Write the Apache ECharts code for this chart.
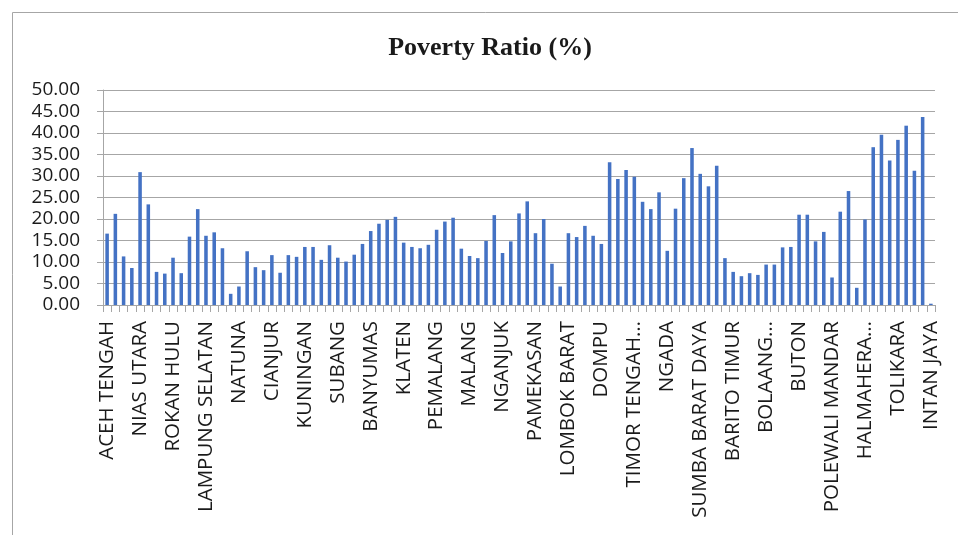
<!DOCTYPE html>
<html>
<head>
<meta charset="utf-8">
<title>Poverty Ratio (%)</title>
<script src="https://cdn.jsdelivr.net/npm/echarts@6/dist/echarts.min.js"></script>
<style>
  html, body { margin: 0; padding: 0; background: #ffffff; }
  #chart { width: 958px; height: 535px; }
</style>
</head>
<body>
<div id="chart"></div>
<script>
// Districts whose names appear on the axis (every fourth district).
const labeledDistricts = [
  'ACEH TENGAH', 'NIAS UTARA', 'ROKAN HULU', 'LAMPUNG SELATAN', 'NATUNA',
  'CIANJUR', 'KUNINGAN', 'SUBANG', 'BANYUMAS', 'KLATEN', 'PEMALANG',
  'MALANG', 'NGANJUK', 'PAMEKASAN', 'LOMBOK BARAT', 'DOMPU',
  'TIMOR TENGAH\u2026', 'NGADA', 'SUMBA BARAT DAYA', 'BARITO TIMUR',
  'BOLAANG\u2026', 'BUTON', 'POLEWALI MANDAR', 'HALMAHERA\u2026',
  'TOLIKARA', 'INTAN JAYA'
];
const labelStep = 4;

// Poverty ratio (%) per district, in axis order.
const povertyRatio = [
  16.6, 21.2, 11.3, 8.6, 30.9, 23.4, 7.7, 7.3, 11.0, 7.4,
  15.9, 22.3, 16.1, 16.9, 13.2, 2.6, 4.3, 12.5, 8.8, 8.1,
  11.6, 7.5, 11.6, 11.2, 13.5, 13.5, 10.5, 13.9, 11.0, 10.1,
  11.7, 14.2, 17.2, 18.9, 19.8, 20.5, 14.5, 13.5, 13.2, 14.0,
  17.5, 19.4, 20.3, 13.1, 11.4, 10.9, 14.9, 20.9, 12.1, 14.8,
  21.3, 24.1, 16.7, 20.0, 9.6, 4.3, 16.7, 15.8, 18.4, 16.1,
  14.2, 33.2, 29.3, 31.4, 29.8, 24.0, 22.3, 26.2, 12.6, 22.4,
  29.5, 36.5, 30.5, 27.6, 32.4, 10.9, 7.7, 6.7, 7.4, 7.0,
  9.4, 9.4, 13.4, 13.5, 21.0, 21.0, 14.8, 17.0, 6.4, 21.7,
  26.5, 4.0, 19.9, 36.7, 39.6, 33.6, 38.4, 41.7, 31.2, 43.7,
  0.3
];

// Category list: named districts at every fourth slot, blanks between.
const categories = povertyRatio.map((_, i) =>
  i % labelStep === 0 ? labeledDistricts[i / labelStep] : ''
);

const chart = echarts.init(document.getElementById('chart'), null, { renderer: 'canvas' });

chart.setOption({
  animation: false,
  backgroundColor: '#ffffff',
  title: {
    text: 'Poverty Ratio (%)',
    left: 485,
    top: 30,
    textAlign: 'center',
    textStyle: {
      fontFamily: '"Liberation Serif", "DejaVu Serif", serif',
      fontWeight: 'bold',
      fontSize: 26,
      color: '#1a1a1a'
    }
  },
  graphic: [{
    type: 'rect',
    shape: { x: 12.5, y: 12.5, width: 960, height: 540 },
    style: { fill: 'none', stroke: '#a6a6a6', lineWidth: 1 },
    silent: true
  }],
  grid: {
    left: 103,
    right: 23,
    top: 90,
    bottom: 230,
    containLabel: false
  },
  xAxis: {
    type: 'category',
    data: categories,
    boundaryGap: true,
    axisLine: { show: true, lineStyle: { color: '#a6a6a6', width: 1 } },
    axisTick: {
      show: true,
      interval: 0,
      alignWithLabel: false,
      length: 7,
      lineStyle: { color: '#a6a6a6' }
    },
    axisLabel: {
      interval: 0,
      rotate: 90,
      margin: 16,
      fontFamily: '"Open Sans", sans-serif',
      fontSize: 20.5,
      color: '#1a1a1a'
    },
    splitLine: { show: false }
  },
  yAxis: {
    type: 'value',
    min: 0,
    max: 50,
    interval: 5,
    axisLine: { show: true, lineStyle: { color: '#a6a6a6', width: 1 } },
    axisTick: { show: true, length: 6, lineStyle: { color: '#a6a6a6' } },
    axisLabel: {
      margin: 23,
      fontFamily: '"Open Sans", sans-serif',
      fontSize: 19,
      color: '#1a1a1a',
      formatter: v => v.toFixed(2)
    },
    splitLine: { show: true, lineStyle: { color: '#a6a6a6', width: 1 } }
  },
  series: [{
    type: 'bar',
    data: povertyRatio,
    barWidth: '43%',
    itemStyle: { color: '#4472C4' }
  }]
});
</script>
</body>
</html>
